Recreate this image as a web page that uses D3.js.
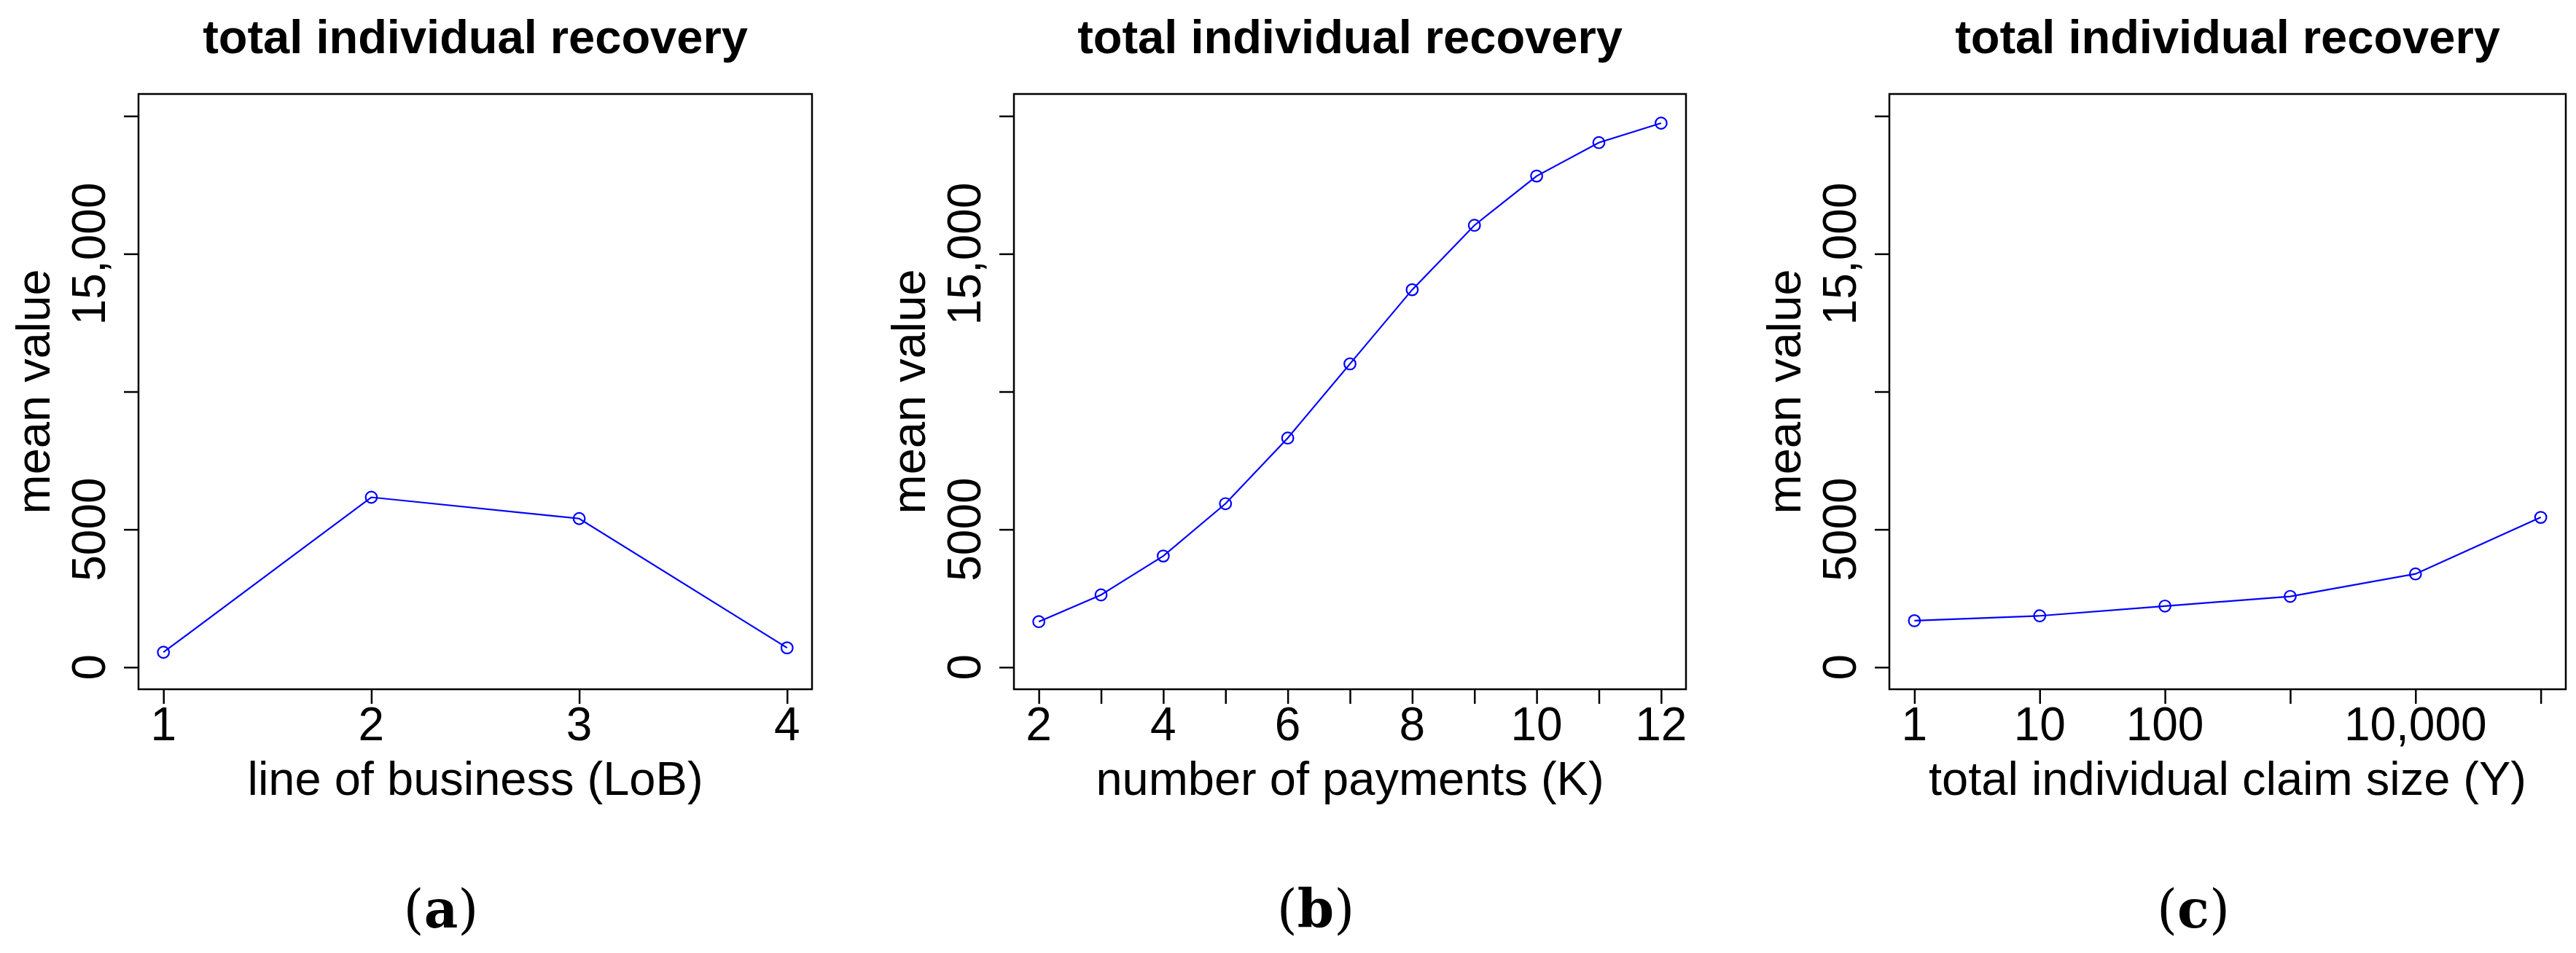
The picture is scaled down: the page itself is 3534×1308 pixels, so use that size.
<!DOCTYPE html>
<html><head><meta charset="utf-8">
<script src="https://cdn.jsdelivr.net/npm/d3@7"></script>
<style>body{margin:0;background:#fff}svg{display:block}</style></head>
<body><script>
const W=3534,H=1308;
const yTicks=[0,5000,10000,15000,20000];
const yTickLabels=["0","5000","","15,000",""];
const lobX=[1,2,3,4];
const lobY=[542,6166,5393,703];
const kX=[2,3,4,5,6,7,8,9,10,11,12];
const kY=[1654,2624,4036,5934,8316,11007,13698,16036,17823,19036,19742];
const kTicks=[2,3,4,5,6,7,8,9,10,11,12];
const kTickLabels=["2","","4","","6","","8","","10","","12"];
const yX=[1,10,100,1000,10000,100000];
const yY=[1688,1864,2219,2570,3385,5437];
const yXTickLabels=["1","10","100","","10,000",""];
const panels=[
 {L:190,R:1114,xs:d3.scaleLinear().domain([0.88,4.12]),xv:lobX,yv:lobY,ticks:lobX,tl:["1","2","3","4"],xlab:"line of business (LoB)",sub:"a"},
 {L:1391,R:2313,xs:d3.scaleLinear().domain([1.6,12.4]),xv:kX,yv:kY,ticks:kTicks,tl:kTickLabels,xlab:"number of payments (K)",sub:"b"},
 {L:2592,R:3520,xs:d3.scaleLog().domain([Math.pow(10,-0.2),Math.pow(10,5.2)]),xv:yX,yv:yY,ticks:yX,tl:yXTickLabels,xlab:"total individual claim size (Y)",sub:"c"}
];
const T=129,B=946;
const svg=d3.select("body").append("svg").attr("width",W).attr("height",H);
const y=d3.scaleLinear().domain([-800,20800]).range([B,T]);
const F="Liberation Sans, Arial, sans-serif";
panels.forEach(p=>{
 const x=p.xs.range([p.L,p.R]);
 const g=svg.append("g");
 g.append("rect").attr("x",p.L).attr("y",T).attr("width",p.R-p.L).attr("height",B-T).attr("fill","none").attr("stroke","#000").attr("stroke-width",2.5);
 const ya=g.append("g").attr("transform",`translate(${p.L},0)`).call(d3.axisLeft(y).tickValues(yTicks).tickSize(20).tickFormat(""));
 ya.select(".domain").remove();
 ya.selectAll("line").attr("stroke-width",2.5);
 yTicks.forEach((v,i)=>{ if(yTickLabels[i]) g.append("text").attr("transform",`translate(${p.L-46},${y(v)}) rotate(-90)`).attr("text-anchor","middle").attr("font-family",F).attr("font-size",64).text(yTickLabels[i]);});
 const xa=g.append("g").attr("transform",`translate(0,${B})`).call(d3.axisBottom(x).tickValues(p.ticks).tickSize(20).tickFormat(""));
 xa.select(".domain").remove();
 xa.selectAll("line").attr("stroke-width",2.5);
 p.ticks.forEach((v,i)=>{ if(p.tl[i]) g.append("text").attr("x",x(v)).attr("y",1016).attr("text-anchor","middle").attr("font-family",F).attr("font-size",64).text(p.tl[i]);});
 const cx=(p.L+p.R)/2;
 g.append("text").attr("x",cx).attr("y",1091).attr("text-anchor","middle").attr("font-family",F).attr("font-size",65).text(p.xlab);
 g.append("text").attr("transform",`translate(${p.L-122},${(T+B)/2}) rotate(-90)`).attr("text-anchor","middle").attr("font-family",F).attr("font-size",65).text("mean value");
 g.append("text").attr("x",cx).attr("y",73).attr("text-anchor","middle").attr("font-family",F).attr("font-weight","bold").attr("font-size",65).text("total individual recovery");
 const st=g.append("text").attr("x",cx-47).attr("y",1273).attr("text-anchor","middle").attr("font-family","DejaVu Serif, Liberation Serif, serif").attr("font-size",72);
 st.append("tspan").text("(");st.append("tspan").attr("font-weight","bold").text(p.sub);st.append("tspan").text(")");
 const pts=p.xv.map((v,i)=>[x(v),y(p.yv[i])]);
 g.append("path").attr("d",d3.line()(pts)).attr("fill","none").attr("stroke","#0000ff").attr("stroke-width",2.2);
 g.selectAll("circle.pt").data(pts).enter().append("circle").attr("cx",d=>d[0]).attr("cy",d=>d[1]).attr("r",7.8).attr("fill","none").attr("stroke","#0000ff").attr("stroke-width",2.2);
});
</script></body></html>
